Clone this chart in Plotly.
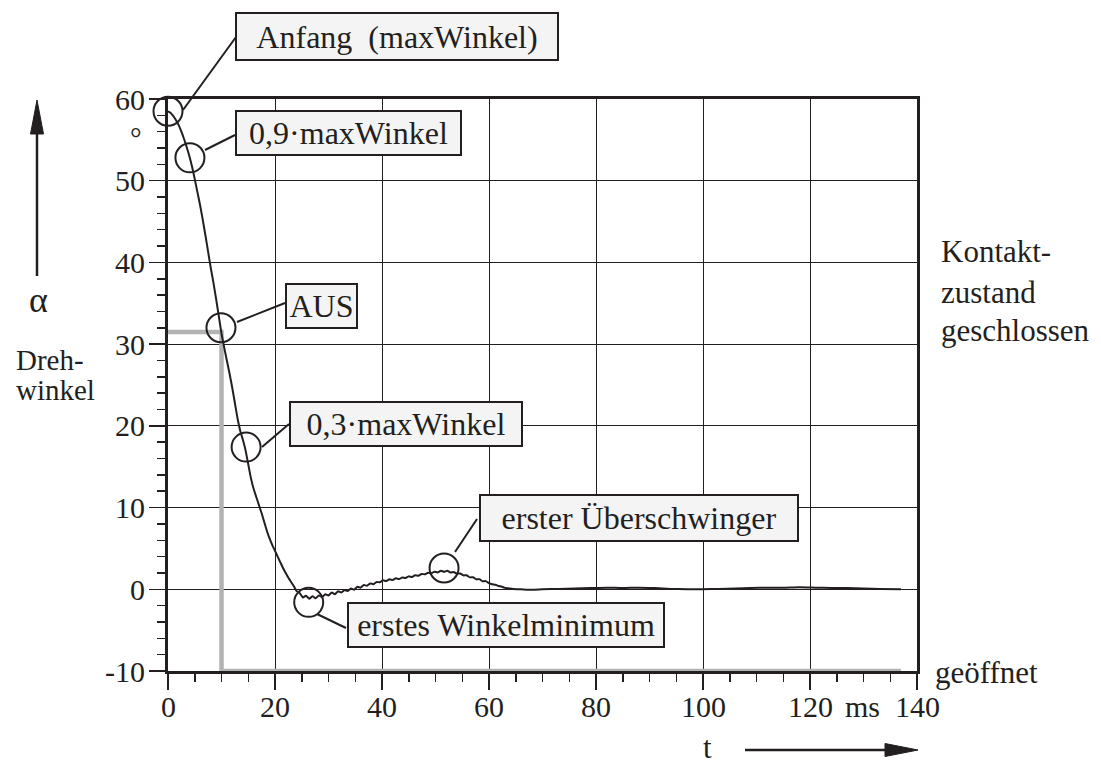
import plotly.graph_objects as go

# ---------------- data ----------------
t_ms = [0, 0.5, 1, 1.5, 2, 2.5, 3, 3.5, 4, 4.5, 5, 5.5, 6, 6.5, 7, 7.5, 8, 8.5, 9, 9.5,
        10, 10.5, 11, 11.5, 12, 12.5, 13, 13.5, 14, 14.5, 15, 15.5, 16, 16.5, 17, 17.5,
        18, 18.5, 19, 19.5, 20, 20.5, 21, 21.5, 22, 22.5, 23, 23.5,
        24.0, 24.6, 25.2, 25.8, 26.4, 27.0, 27.6, 28.2, 28.8, 29.4, 30.0, 30.6, 31.2, 31.8,
        32.4, 33.0, 33.6, 34.2, 34.8, 35.4, 36.0, 36.6, 37.2, 37.8, 38.4, 39.0, 39.6, 40.2,
        40.8, 41.4, 42.0, 42.6, 43.2, 43.8, 44.4, 45.0, 45.6, 46.2, 46.8, 47.4, 48.0, 48.6,
        49.2, 49.8, 50.4, 51.0, 51.6, 52.2, 52.8, 53.4, 54.0, 54.6, 55.2, 55.8, 56.4, 57.0,
        57.6, 58.2, 58.8, 59.4, 60.0, 60.6, 61.2, 61.8, 62.4, 63.0, 63.6, 64.5, 66, 68, 70,
        73, 76, 79, 82, 85, 88, 91, 94, 97, 100, 103, 106, 109, 112, 115, 118, 121, 124,
        127, 130, 133, 137]
alpha_deg = [58.5, 58.3, 57.9, 57.4, 56.8, 56.0, 55.1, 54.1, 53.0, 51.7, 50.2, 48.6, 47.0,
             45.2, 43.3, 41.3, 39.3, 37.5, 35.5, 33.4, 31.3, 29.6, 28.0, 26.4, 24.7, 22.8,
             20.9, 19.4, 18.3, 17.0, 15.3, 13.6, 12.3, 11.3, 10.3, 9.3, 8.2, 7.1, 6.2, 5.4,
             4.7, 4.0, 3.3, 2.6, 2.0, 1.4, 0.9, 0.4,
             -0.2, -0.45, -1.0, -0.8, -1.15, -0.85, -1.1, -0.75, -0.95, -0.6, -0.75, -0.4,
             -0.6, -0.25, -0.4, -0.1, -0.2, 0.1, -0.05, 0.3, 0.2, 0.52, 0.43, 0.72, 0.62, 0.9,
             0.85, 1.1, 1.0, 1.22, 1.13, 1.34, 1.25, 1.45, 1.38, 1.58, 1.5, 1.71, 1.66, 1.88,
             1.83, 2.03, 1.95, 2.16, 2.06, 2.28, 2.14, 2.26, 2.06, 2.12, 1.9, 1.94, 1.7, 1.72,
             1.46, 1.48, 1.22, 1.24, 0.98, 1.0, 0.76, 0.62, 0.55, 0.4, 0.32, 0.17, 0.12, 0.03,
             0.0, -0.05, 0.0, 0.05, 0.1, 0.15, 0.2, 0.15, 0.2, 0.15, 0.05, 0.0, 0.0, 0.05,
             0.1, 0.15, 0.2, 0.2, 0.25, 0.2, 0.15, 0.15, 0.1, 0.05, 0.0]

contact_t = [0, 10, 10, 137]
contact_level = [31.5, 31.5, -10, -10]

mark_t = [0, 4.1, 9.9, 14.6, 26.3, 51.6]
mark_alpha = [58.5, 52.8, 32.0, 17.4, -1.6, 2.6]

x_tickvals = [0, 20, 40, 60, 80, 100, 120, 140]
x_ticktext = ["0", "20", "40", "60", "80", "100", "120", "140"]
y_tickvals = [-10, 0, 10, 20, 30, 40, 50, 60]
y_ticktext = ["-10", "0", "10", "20", "30", "40", "50", "60"]

box_texts = ["Anfang\u00a0 (maxWinkel)", "0,9\u00b7maxWinkel", "AUS",
             "0,3\u00b7maxWinkel", "erster \u00dcberschwinger", "erstes Winkelminimum"]

# ---------------- layout geometry (pixels) ----------------
W, H = 1101, 764
L, R, T, B = 168, 184, 99, 93
PW, PH = W - L - R, H - T - B
INK = "#231f20"
FONT = "'Liberation Serif', 'Times New Roman', serif"


def P(xp, yp):
    return (xp - L) / PW, (H - B - yp) / PH


# box geometry: left, top, right, bottom in pixels
boxes = [(235, 12, 559, 61), (235, 110, 462, 156), (285, 283, 358, 329),
         (289, 401, 523, 447), (479, 494, 799, 542), (347, 602, 665, 648)]
# connector lines: circle edge -> box edge (pixels)
connectors = [((183, 110), (236, 37)), ((205, 150), (235, 135)), ((237, 322), (285, 303)),
              ((262, 447), (289, 424)), ((455, 552), (477, 519)), ((317, 614), (346, 628))]

fig = go.Figure()
fig.add_trace(go.Scatter(x=contact_t, y=contact_level, mode="lines",
                         line=dict(color="#b3b3b3", width=4.5), cliponaxis=False,
                         hoverinfo="skip"))
fig.add_trace(go.Scatter(x=t_ms, y=alpha_deg, mode="lines",
                         line=dict(color=INK, width=2, shape="spline", smoothing=0.5),
                         hoverinfo="skip"))
fig.add_trace(go.Scatter(x=mark_t, y=mark_alpha, mode="markers", cliponaxis=False,
                         marker=dict(symbol="circle-open", size=29, color=INK,
                                     line=dict(width=2, color=INK)),
                         hoverinfo="skip"))

shapes = []
for (a, b) in connectors:
    x0, y0 = P(*a)
    x1, y1 = P(*b)
    shapes.append(dict(type="line", xref="paper", yref="paper", x0=x0, y0=y0, x1=x1, y1=y1,
                       line=dict(color=INK, width=2), layer="above"))

# vertical arrow (alpha)
x0, y0 = P(37, 276)
x1, y1 = P(37, 128)
shapes.append(dict(type="line", xref="paper", yref="paper", x0=x0, y0=y0, x1=x1, y1=y1,
                   line=dict(color=INK, width=2.5)))
a1, a2, a3 = P(37, 100), P(30.5, 134), P(43.5, 134)
shapes.append(dict(type="path", xref="paper", yref="paper",
                   path=f"M{a1[0]},{a1[1]} L{a2[0]},{a2[1]} L{a3[0]},{a3[1]} Z",
                   fillcolor=INK, line=dict(color=INK, width=1)))
# horizontal arrow (t)
x0, y0 = P(745, 750)
x1, y1 = P(890, 750)
shapes.append(dict(type="line", xref="paper", yref="paper", x0=x0, y0=y0, x1=x1, y1=y1,
                   line=dict(color=INK, width=2.5)))
a1, a2, a3 = P(918, 750), P(885, 743.5), P(885, 756.5)
shapes.append(dict(type="path", xref="paper", yref="paper",
                   path=f"M{a1[0]},{a1[1]} L{a2[0]},{a2[1]} L{a3[0]},{a3[1]} Z",
                   fillcolor=INK, line=dict(color=INK, width=1)))

annotations = []
for txt, (l, t, r, b) in zip(box_texts, boxes):
    cx, cy = P((l + r) / 2, (t + b) / 2)
    annotations.append(dict(text=txt, xref="paper", yref="paper", x=cx, y=cy,
                            xanchor="center", yanchor="middle", showarrow=False,
                            width=(r - l) - 4, height=(b - t) - 4, borderpad=0,
                            bordercolor=INK, borderwidth=2, bgcolor="#f4f4f4",
                            font=dict(family=FONT, size=32, color=INK)))

# x tick labels (placed on the data x positions)
_, ylab = P(0, 706)
for v, s in zip(x_tickvals, x_ticktext):
    annotations.append(dict(text=s, xref="x", yref="paper", x=v, y=ylab,
                            xanchor="center", yanchor="middle", showarrow=False,
                            height=26, font=dict(family=FONT, size=30, color=INK)))


def label(txt, xp, yp, size=31, anchor="left", height=None):
    x, y = P(xp, yp)
    d = dict(text=txt, xref="paper", yref="paper", x=x, y=y,
             xanchor=anchor, yanchor="middle", showarrow=False,
             font=dict(family=FONT, size=size, color=INK))
    if height:
        d["height"] = height
    annotations.append(d)


label("\u03b1", 38, 300, size=36, anchor="center", height=30)
label("Dreh-", 14, 359, size=29, height=25)
label("winkel", 14, 389, size=29, height=25)
label("\u00b0", 136, 138, size=29, anchor="center")
label("Kontakt-", 939, 251)
label("zustand", 939, 292)
label("geschlossen", 939, 330)
label("geöffnet", 933, 672)
label("t", 707.5, 747, anchor="center", height=28)
label("ms", 862, 706, size=30, anchor="center", height=26)

axis_common = dict(showline=True, linewidth=3, linecolor=INK, mirror=True,
                   ticks="outside", ticklen=16, tickwidth=1.5, tickcolor=INK,
                   showgrid=True, gridcolor=INK, gridwidth=1, zeroline=False,
                   tickfont=dict(family=FONT, size=30, color=INK),
                   tickmode="array", layer="below traces")

fig.update_layout(
    width=W, height=H,
    margin=dict(l=L, r=R, t=T, b=B, pad=0),
    paper_bgcolor="white", plot_bgcolor="white",
    showlegend=False, hovermode=False,
    xaxis=dict(range=[0, 140], tickvals=x_tickvals, ticktext=x_ticktext,
               showticklabels=False,
               minor=dict(dtick=5, tick0=0, ticks="outside", ticklen=8, tickwidth=1.5,
                          tickcolor=INK, showgrid=False),
               **axis_common),
    yaxis=dict(range=[-10, 60], tickvals=y_tickvals, ticktext=y_ticktext,
               ticklabelstandoff=-2,
               minor=dict(dtick=2, tick0=0, ticks="outside", ticklen=8, tickwidth=1.5,
                          tickcolor=INK, showgrid=False),
               **axis_common),
    shapes=shapes, annotations=annotations,
)

fig.write_html("out.html", config={"displayModeBar": False, "staticPlot": True},
               post_script="document.body.style.margin='0';document.body.style.padding='0';"
                           "document.documentElement.style.overflow='hidden';")
